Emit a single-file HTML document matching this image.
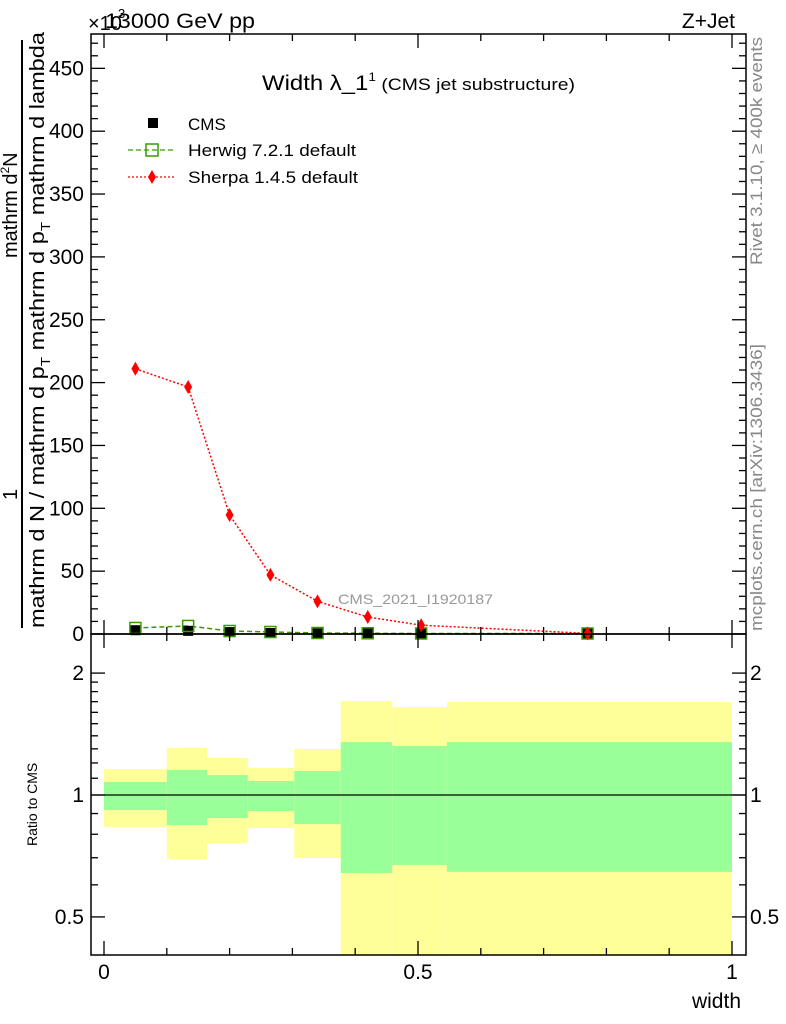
<!DOCTYPE html>
<html><head><meta charset="utf-8"><style>
body{margin:0;background:#fff;}
svg{display:block;font-family:"Liberation Sans",sans-serif;}
</style></head><body>
<svg id="c" width="786" height="1024" viewBox="0 0 786 1024" xmlns="http://www.w3.org/2000/svg">
<g id="bands"></g>
<g id="marks"></g>
<g id="axes"></g>
<text x="105" y="28" font-size="21" textLength="150" lengthAdjust="spacingAndGlyphs">13000 GeV pp</text>
<text x="88" y="30" font-size="20">×10</text>
<text x="118" y="18" font-size="13">3</text>
<text x="735" y="28" font-size="21" text-anchor="end">Z+Jet</text>
<text x="262" y="90" font-size="21" textLength="313" lengthAdjust="spacingAndGlyphs">Width λ_1<tspan font-size="12" dy="-9">1</tspan><tspan font-size="17" dy="9"> (CMS jet substructure)</tspan></text>
<g>
<rect x="148" y="118" width="10" height="10" fill="#000"/>
<text x="188" y="130" font-size="17">CMS</text>
<line x1="128" y1="150" x2="174" y2="150" stroke="#3a9a00" stroke-dasharray="5,3" stroke-width="1.3"/>
<rect x="146" y="144" width="12" height="12" fill="none" stroke="#3a9a00" stroke-width="1.5"/>
<text x="188" y="156" font-size="17" textLength="168" lengthAdjust="spacingAndGlyphs">Herwig 7.2.1 default</text>
<line x1="128" y1="177" x2="174" y2="177" stroke="red" stroke-dasharray="2,2" stroke-width="1.3"/>
<path d="M152,170 L156,177 L152,184 L148,177Z" fill="red"/>
<text x="188" y="183" font-size="17" textLength="170" lengthAdjust="spacingAndGlyphs">Sherpa 1.4.5 default</text>
</g>
<text x="338" y="604" font-size="14" fill="#999" textLength="155" lengthAdjust="spacingAndGlyphs">CMS_2021_I1920187</text>
<text transform="translate(762,265) rotate(-90)" font-size="17" fill="#888" textLength="228" lengthAdjust="spacingAndGlyphs">Rivet 3.1.10, ≥ 400k events</text>
<text transform="translate(762,631) rotate(-90)" font-size="17" fill="#888" textLength="287" lengthAdjust="spacingAndGlyphs">mcplots.cern.ch [arXiv:1306.3436]</text>
<g>
<line x1="22" y1="40" x2="22" y2="628" stroke="#000" stroke-width="2"/>
<text transform="translate(17,500) rotate(-90)" font-size="20">1</text>
<text transform="translate(17,258) rotate(-90)" font-size="20">mathrm d<tspan font-size="12" dy="-8">2</tspan><tspan dy="8">N</tspan></text>
<text transform="translate(44,628) rotate(-90)" font-size="20" textLength="596" lengthAdjust="spacingAndGlyphs">mathrm d N / mathrm d p<tspan font-size="13" dy="6">T</tspan><tspan dy="-6"> mathrm d p</tspan><tspan font-size="13" dy="6">T</tspan><tspan dy="-6"> mathrm d lambda</tspan></text>
</g>
<text transform="translate(37,846) rotate(-90)" font-size="14">Ratio to CMS</text>
<text x="741" y="1008" font-size="21" text-anchor="end">width</text>
</svg>
<script>
const edges=[0,0.10,0.164,0.229,0.303,0.377,0.459,0.546,1.0];
const centers=[0.05,0.134,0.2,0.265,0.34,0.42,0.505,0.77];
const cmsVals=[3,2.5,1.5,0.8,0.6,0.5,0.4,0.4];
const herwigVals=[4.8,6.4,2.4,1.6,0.8,0.6,0.4,0.4];
const sherpaVals=[211,196.5,94.7,47,26,13.5,7,0.5];
const yellowHi=[1.159,1.306,1.234,1.166,1.299,1.706,1.649,1.697];
const greenHi=[1.077,1.153,1.12,1.083,1.146,1.351,1.321,1.351];
const greenLo=[0.918,0.843,0.877,0.913,0.848,0.642,0.672,0.646];
const yellowLo=[0.834,0.695,0.761,0.829,0.699,0.3,0.3,0.3];
const yTicks=[0,50,100,150,200,250,300,350,400,450];
const xTicks=[0,0.5,1];
const rTicks=[0.5,1,2];
const NS='http://www.w3.org/2000/svg';
const X0=91,X1=746,T=34,M=634,B=955;
const xs=v=>104+v*628;
const ys=v=>634-v*1.257;
const rs=v=>Math.max(T,Math.min(B,795-405*Math.log10(v)));
const rsc=v=>Math.min(B,Math.max(M,795-405*Math.log10(v)));
function el(tag,attrs,parent){const e=document.createElementNS(NS,tag);for(const k in attrs)e.setAttribute(k,attrs[k]);parent.appendChild(e);return e;}
const bands=document.getElementById('bands'),marks=document.getElementById('marks'),axes=document.getElementById('axes');
for(let i=0;i<centers.length;i++){
 const x=xs(edges[i]),w=xs(edges[i+1])-x;
 const y1=el('rect',{x:x,y:rsc(yellowHi[i]),width:w,height:rsc(yellowLo[i])-rsc(yellowHi[i]),fill:'#ffff99'},bands);
 
 
 const g=el('rect',{x:x,y:rsc(greenHi[i]),width:w,height:rsc(greenLo[i])-rsc(greenHi[i]),fill:'#99ff99'},bands);
 
 
}
el('line',{x1:X0,x2:X1,y1:rs(1),y2:rs(1),stroke:'#000','stroke-width':1.3},bands);
function poly(vals,color,dash){let d='';vals.forEach((v,i)=>{d+=(i?'L':'M')+xs(centers[i])+','+ys(v);});return el('path',{d:d,fill:'none',stroke:color,'stroke-width':1.5,'stroke-dasharray':dash},marks);}
const hl=poly(herwigVals,'#3a9a00','5,3');


const sl=poly(sherpaVals,'red','2,2');


centers.forEach((c,i)=>{
 const x=xs(c);
 const cm=el('rect',{x:x-5,y:ys(cmsVals[i])-5,width:10,height:10,fill:'#000'},marks);
 
 
 const h=el('rect',{x:x-5.5,y:ys(herwigVals[i])-5.5,width:11,height:11,fill:'none',stroke:'#3a9a00','stroke-width':1.5},marks);
 
 
 const y=ys(sherpaVals[i]);
 const s=el('path',{d:`M${x},${y-7}L${x+4},${y}L${x},${y+7}L${x-4},${y}Z`,fill:'red'},marks);
 
 
});
el('rect',{x:X0,y:T,width:X1-X0,height:M-T,fill:'none',stroke:'#000','stroke-width':1.5},axes);
el('rect',{x:X0,y:M,width:X1-X0,height:B-M,fill:'none',stroke:'#000','stroke-width':1.5},axes);
for(let v=0;v<=470;v+=10){const y=ys(v);const L=v%50===0?14:7;
 el('line',{x1:X0,x2:X0+L,y1:y,y2:y,stroke:'#000','stroke-width':1.3},axes);
 el('line',{x1:X1-L,x2:X1,y1:y,y2:y,stroke:'#000','stroke-width':1.3},axes);}
yTicks.forEach(v=>{const t=el('text',{x:84,y:ys(v)+7,'font-size':21,'text-anchor':'end'},axes);t.textContent=v;
 
 });
for(let k=0;k<=10;k++){const v=k/10,x=xs(v),L=k%5===0?14:7;
 [[T,T+L],[M-L,M+L],[B-L,B]].forEach(p=>el('line',{x1:x,x2:x,y1:p[0],y2:p[1],stroke:'#000','stroke-width':1.3},axes));}
xTicks.forEach(v=>{const t=el('text',{x:xs(v),y:979,'font-size':21,'text-anchor':'middle'},axes);t.textContent=v;
 
 });
[0.5,0.6,0.7,0.8,0.9,1,1.1,1.2,1.3,1.4,1.5,1.6,1.7,1.8,1.9,2].forEach(v=>{const y=rs(v),L=(v===0.5||v===1||v===2)?14:7;
 el('line',{x1:X0,x2:X0+L,y1:y,y2:y,stroke:'#000','stroke-width':1.3},axes);
 el('line',{x1:X1-L,x2:X1,y1:y,y2:y,stroke:'#000','stroke-width':1.3},axes);});
rTicks.forEach(v=>{
 const t=el('text',{x:84,y:rs(v)+7,'font-size':21,'text-anchor':'end'},axes);t.textContent=v;
 
 
 const t2=el('text',{x:750,y:rs(v)+7,'font-size':21},axes);t2.textContent=v;
 
 });
</script>
</body></html>
